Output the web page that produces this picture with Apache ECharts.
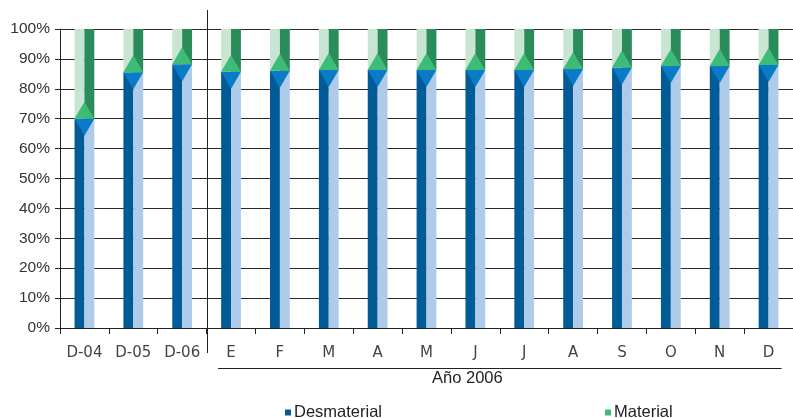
<!DOCTYPE html>
<html>
<head>
<meta charset="utf-8">
<script src="https://cdn.jsdelivr.net/npm/echarts@6/dist/echarts.min.js"></script>
<style>html,body{margin:0;padding:0;background:#fff;}#c{width:793px;height:418px;}</style>
</head>
<body>
<div id="c"></div>
<script>
const categories = ['D-04','D-05','D-06','E','F','M','A','M','J','J','A','S','O','N','D'];
const desmaterial = [70, 85.5, 88.2, 85.7, 86, 86.3, 86.3, 86.3, 86.3, 86.3, 86.6, 87.1, 87.6, 87.6, 88];
const material = [30, 14.5, 11.8, 14.3, 14, 13.7, 13.7, 13.7, 13.7, 13.7, 13.4, 12.9, 12.4, 12.4, 12];
const yearLabel = 'Año 2006';
const firstYearIndex = 3;

const C = {
  blueDark: '#005b97', blueLight: '#aecbea', blueMid: '#0a7bc6',
  greenLight: '#c7e5d0', greenDark: '#2a8b5b', greenMid: '#3fbb78'
};
const BEVEL = 17;

function makeRender(kind) {
  return function (params, api) {
    const i = api.value(0), y0 = api.value(1), y1 = api.value(2);
    const pb = api.coord([i, y0]);
    const pt = api.coord([i, y1]);
    const w = api.size([1, 0])[0] * 0.405;
    const cx = pb[0], l = cx - w / 2, r = cx + w / 2;
    const top = pt[1], bot = pb[1];
    const leftCol = kind === 'blue' ? C.blueDark : C.greenLight;
    const rightCol = kind === 'blue' ? C.blueLight : C.greenDark;
    const mid = kind === 'blue' ? C.blueMid : C.greenMid;
    const tri = kind === 'blue'
      ? [[l, top], [r, top], [cx, top + BEVEL]]
      : [[l, bot], [r, bot], [cx, bot - BEVEL]];
    return {
      type: 'group',
      children: [
        { type: 'rect', shape: { x: l, y: top, width: cx - l, height: bot - top }, style: { fill: leftCol } },
        { type: 'rect', shape: { x: cx, y: top, width: r - cx, height: bot - top }, style: { fill: rightCol } },
        { type: 'polygon', shape: { points: tri }, style: { fill: mid } }
      ]
    };
  };
}

const chart = echarts.init(document.getElementById('c'));
const option = {
  animation: false,
  backgroundColor: '#fff',
  grid: { left: 60, top: 29, bottom: 90, right: -9 },
  legend: [
    { data: ['Desmaterial'], left: 280, top: 399, icon: 'rect', itemWidth: 6, itemHeight: 6, itemGap: 4,
      textStyle: { fontFamily: 'Liberation Sans', fontSize: 16.5, color: '#222', padding: [0,0,0,-2] } },
    { data: ['Material'], left: 600, top: 399, icon: 'rect', itemWidth: 6, itemHeight: 6, itemGap: 4,
      textStyle: { fontFamily: 'Liberation Sans', fontSize: 16.5, color: '#222', padding: [0,0,0,-2] } }
  ],
  xAxis: {
    type: 'category', data: categories, boundaryGap: true,
    axisLine: { lineStyle: { color: '#222', width: 1 } },
    axisTick: { show: true, length: 6, interval: 0, lineStyle: { color: '#222' } },
    axisLabel: { interval: 0, margin: 18, fontFamily: 'DejaVu Sans', fontSize: 15, color: '#444' },
    splitLine: { show: false }
  },
  yAxis: {
    type: 'value', min: 0, max: 100, interval: 10,
    axisLine: { show: true, lineStyle: { color: '#222', width: 1 } },
    axisTick: { show: true, length: 5, lineStyle: { color: '#222' } },
    axisLabel: { formatter: '{value}%', margin: 10, fontFamily: 'Liberation Sans', fontSize: 15.5, color: '#333' },
    splitLine: { show: true, lineStyle: { color: '#2a2a2a', width: 1 } }
  },
  series: [
    { name: 'Desmaterial', type: 'custom', renderItem: makeRender('blue'),
      itemStyle: { color: C.blueDark }, encode: { x: 0, y: [1, 2] },
      data: desmaterial.map((v, i) => [i, 0, v]) },
    { name: 'Material', type: 'custom', renderItem: makeRender('green'),
      itemStyle: { color: C.greenMid }, encode: { x: 0, y: [1, 2] },
      data: material.map((v, i) => [i, desmaterial[i], desmaterial[i] + v]) }
  ]
};
chart.setOption(option);

const pA = chart.convertToPixel({ xAxisIndex: 0 }, firstYearIndex - 1);
const pB = chart.convertToPixel({ xAxisIndex: 0 }, firstYearIndex);
const pLast = chart.convertToPixel({ xAxisIndex: 0 }, categories.length - 1);
const sepX = Math.round((pA + pB) / 2) + 0.5;
const y0 = chart.convertToPixel({ yAxisIndex: 0 }, 0);
const lineL = pB - 13, lineR = pLast + 13;
chart.setOption({
  graphic: [
    { type: 'line', shape: { x1: sepX, y1: 10, x2: sepX, y2: y0 + 25 }, style: { stroke: '#222', lineWidth: 1 }, z: 100 },
    { type: 'line', shape: { x1: lineL, y1: y0 + 40.5, x2: lineR, y2: y0 + 40.5 }, style: { stroke: '#222', lineWidth: 1 }, z: 100 },
    { type: 'text', x: pB + 201, y: y0 + 42, style: { text: yearLabel, fontFamily: 'Liberation Sans', fontSize: 16.5, fill: '#222', textAlign: 'left' }, z: 100 }
  ]
});
</script>
</body>
</html>
